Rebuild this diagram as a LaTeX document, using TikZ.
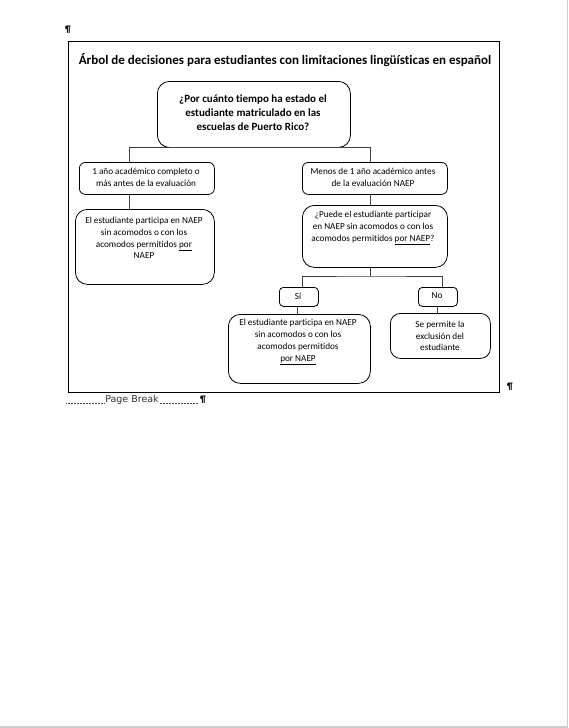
\documentclass[tikz,border=0pt]{standalone}
\usepackage{fontspec}
\setmainfont{Carlito}[Ligatures=NoCommon]
\newfontfamily\uifont{DejaVu Sans}
\begin{document}
\begin{tikzpicture}[x=1pt,y=-1pt,
  box/.style={draw=black,line width=0.8pt,inner sep=0pt,anchor=north west},
  txt/.style={align=center,inner sep=0pt,font=\fontsize{9.2}{11.8}\selectfont},
  conn/.style={draw=black!75,line width=0.8pt}]
\useasboundingbox (0,0) rectangle (568,728);
\fill[white] (0,0) rectangle (568,728);
\fill[black!20] (567,0) rectangle (568,728);
\fill[black!20] (0,726) rectangle (568,728);
% frame
\node[box,line width=0.9pt,minimum width=431pt,minimum height=351pt,rounded corners=0pt] (frame) at (68,41) {};
\node[inner sep=0pt,font=\bfseries\fontsize{9.5}{10}\selectfont] (p1) at (68,30) {¶};
\node[inner sep=0pt,font=\bfseries\fontsize{9.5}{10}\selectfont] (p2) at (510,387) {¶};
\node[inner sep=0pt,font=\bfseries\fontsize{13}{15}\selectfont] (title) at (285,60) {Árbol de decisiones para estudiantes con limitaciones lingüísticas en español};
% boxes
\node[box,rounded corners=12pt,minimum width=193pt,minimum height=66pt] (top) at (157,81) {};
\node[box,rounded corners=6pt,minimum width=135pt,minimum height=32pt] (L1) at (79,162) {};
\node[box,rounded corners=6pt,minimum width=145pt,minimum height=32pt] (R1) at (302,162) {};
\node[box,rounded corners=12pt,minimum width=139pt,minimum height=75pt] (L2) at (75,209) {};
\node[box,rounded corners=12pt,minimum width=145pt,minimum height=62pt] (R2) at (302,205) {};
\node[box,rounded corners=4pt,minimum width=39pt,minimum height=19pt] (Si) at (279,287) {};
\node[box,rounded corners=4pt,minimum width=39pt,minimum height=19pt] (No) at (418,287) {};
\node[box,rounded corners=12pt,minimum width=142pt,minimum height=69pt] (BL) at (228,314) {};
\node[box,rounded corners=10pt,minimum width=100pt,minimum height=45pt] (BR) at (390,313) {};
% texts
\node[txt,font=\bfseries\fontsize{11}{14}\selectfont] (ttop) at (253,113) {¿Por cuánto tiempo ha estado el\\estudiante matriculado en las\\escuelas de Puerto Rico?};
\node[txt] (tL1) at (146,177) {1 año académico completo o\\más antes de la evaluación};
\node[txt] (tR1) at (373,177) {Menos de 1 año académico antes\\de la evaluación NAEP};
\node[txt] (tL2) at (144,238) {El estudiante participa en NAEP\\sin acomodos o con los\\acomodos permitidos \underline{por}\\NAEP};
\node[txt] (tR2) at (373,228) {¿Puede el estudiante participar\\en NAEP sin acomodos o con los\\acomodos permitidos \underline{por NAEP}?};
\node[txt] (tSi) at (298,296) {Sí};
\node[txt] (tNo) at (437,296) {No};
\node[txt] (tBL) at (298,342) {El estudiante participa en NAEP\\sin acomodos o con los\\acomodos permitidos\\\underline{por NAEP}};
\node[txt] (tBR) at (440,336) {Se permite la\\exclusión del\\estudiante};
% connectors
\draw[conn] ([xshift=50pt]L1.north west) |- (top.south) -| ([xshift=68pt]R1.north west);
\draw[conn] ([xshift=50pt]L1.south west) -- ([xshift=50pt]L1.south west |- L2.north);
\draw[conn] ([xshift=68pt]R1.south west) -- ([xshift=68pt]R1.south west |- R2.north);
\coordinate (fork) at (370,276);
\draw[conn] ([xshift=68pt]R2.south west) -- (fork);
\draw[conn] ([xshift=23pt]Si.north west) |- (fork) -| ([xshift=24pt]No.north west);
\draw[conn] ([xshift=18pt]Si.south west) -- ([xshift=18pt]Si.south west |- BL.north);
\draw[conn] ([xshift=19pt]No.south west) -- ([xshift=19pt]No.south west |- BR.north);
% page break
\coordinate (pbs) at (66,403);
\coordinate (pbe) at (198,403);
\node[inner sep=0pt,font=\uifont\fontsize{9.5}{11}\selectfont,text=black!80,fill=white,inner xsep=1pt] (pb) at (132,400) {Page Break};
\draw[black!70,line width=0.5pt,dash pattern=on 0.6pt off 0.9pt] (pbs) -- (pb.west |- pbs);
\draw[black!70,line width=0.5pt,dash pattern=on 0.6pt off 0.9pt] (pb.east |- pbe) -- (pbe);
\node[inner sep=0pt,font=\bfseries\fontsize{9.5}{10}\selectfont] (p3) at (203,400) {¶};
\end{tikzpicture}
\end{document}
